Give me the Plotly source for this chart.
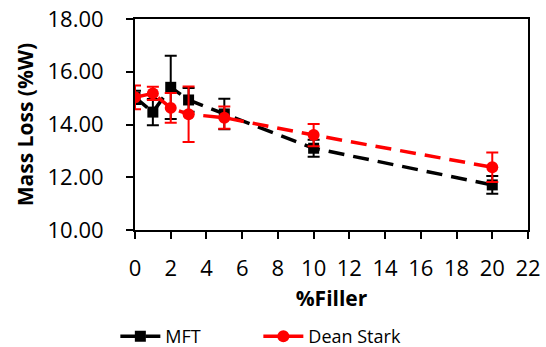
import plotly.graph_objects as go

filler = [0, 1, 2, 3, 5, 10, 20]
mft = [15.03, 14.47, 15.41, 14.93, 14.40, 13.10, 11.71]
mft_err = [0.25, 0.5, 1.2, 0.45, 0.58, 0.32, 0.34]
ds = [15.03, 15.18, 14.63, 14.39, 14.26, 13.60, 12.38]
ds_err = [0.45, 0.25, 0.56, 1.05, 0.42, 0.42, 0.56]

fig = go.Figure()
fig.add_trace(go.Scatter(
    x=filler, y=mft, name="MFT", mode="lines+markers",
    line=dict(color="black", width=3.5, dash="16px,9px"),
    marker=dict(symbol="square", size=11, color="black"),
    error_y=dict(type="data", array=mft_err, color="black", thickness=2, width=6),
))
fig.add_trace(go.Scatter(
    x=filler, y=ds, name="Dean Stark", mode="lines+markers",
    line=dict(color="red", width=3.5, dash="16px,9px"),
    marker=dict(symbol="circle", size=12, color="red"),
    error_y=dict(type="data", array=ds_err, color="red", thickness=2, width=6),
))

font = "Open Sans, Liberation Sans, sans-serif"
fig.update_layout(
    width=546, height=347,
    margin=dict(l=135, r=18, t=19, b=117, autoexpand=False),
    paper_bgcolor="white", plot_bgcolor="white",
    font=dict(family=font, size=22, color="black"),
    legend=dict(orientation="h", x=-0.05, xanchor="left",
                y=-0.505, yanchor="middle", itemwidth=40,
                font=dict(size=18), entrywidth=88, tracegroupgap=0),
    showlegend=True,
)
fig.update_xaxes(
    range=[0, 22], dtick=2, tick0=0, showgrid=False, zeroline=False,
    showline=True, linecolor="black", linewidth=2, mirror=True,
    ticks="outside", ticklen=7, tickcolor="black", tickwidth=2,
    ticklabelstandoff=11, automargin=False,
    title=dict(text="<b>%Filler</b>", font=dict(size=21), standoff=10),
)
fig.update_yaxes(
    range=[10, 18], dtick=2, tickformat=".2f", showgrid=False, zeroline=False,
    showline=True, linecolor="black", linewidth=2, mirror=True,
    ticks="outside", ticklen=7, tickcolor="black", tickwidth=2,
    ticklabelstandoff=18, automargin=False,
    title=dict(text="<b>Mass Loss (%W)</b>", font=dict(size=21), standoff=8),
)
fig.write_html("out.html")
